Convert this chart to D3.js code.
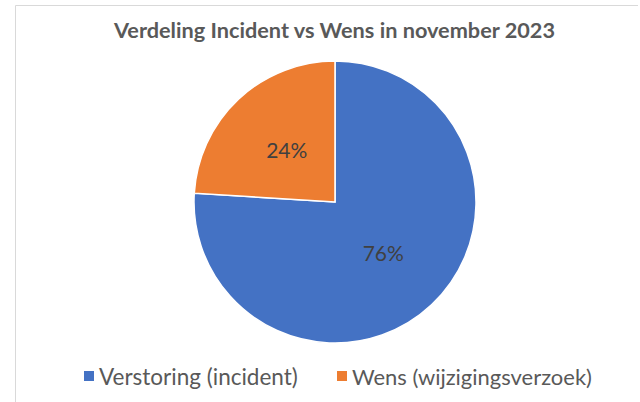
<!DOCTYPE html>
<html>
<head>
<meta charset="utf-8">
<script src="https://cdn.jsdelivr.net/npm/d3@7"></script>
<style>
  body { margin: 0; background: #fff; }
  text { font-family: Lato, "Open Sans", sans-serif; }
</style>
</head>
<body>
<div id="chart"></div>
<script>
// Chart data
const categories = ["Verstoring (incident)", "Wens (wijzigingsverzoek)"];
const shares = [76, 24];
const colors = ["#4472C4", "#ED7D31"];
const title = "Verdeling Incident vs Wens in november 2023";

const width = 640, height = 402;
const cx = 335, cy = 202, radius = 141;

const svg = d3.select("#chart").append("svg")
    .attr("width", width)
    .attr("height", height);

// Chart area border (only top and left visible in the frame)
svg.append("path")
    .attr("d", `M15.5,${height} V5.5 H638`)
    .attr("fill", "none")
    .attr("stroke", "#d9d9d9")
    .attr("stroke-width", 1);

// Fit a text element to a target width by adjusting font size
const fitWidth = (sel, target) => {
    const node = sel.node();
    const size = parseFloat(sel.style("font-size"));
    const w = node.getComputedTextLength();
    sel.style("font-size", (size * target / w).toFixed(2) + "px");
};

// Title
const t = svg.append("text")
    .attr("x", 334.5)
    .attr("y", 38)
    .attr("text-anchor", "middle")
    .style("font-size", "20px")
    .style("font-weight", "bold")
    .attr("fill", "#595959")
    .text(title);
fitWidth(t, 441);

// Pie
const data = categories.map((c, i) => ({ name: c, value: shares[i], color: colors[i] }));
const pie = d3.pie().value(d => d.value).sort(null);
const arc = d3.arc().innerRadius(0).outerRadius(radius);
const labelArc = d3.arc().innerRadius(radius * 0.5).outerRadius(radius * 0.5);

const g = svg.append("g").attr("transform", `translate(${cx},${cy})`);

g.selectAll("path")
    .data(pie(data))
    .join("path")
    .attr("d", arc)
    .attr("fill", d => d.data.color)
    .attr("stroke", "#fff")
    .attr("stroke-width", 1.5);

const total = d3.sum(shares);
g.selectAll("text.lbl")
    .data(pie(data))
    .join("text")
    .attr("class", "lbl")
    .attr("transform", d => {
        const [x, y] = labelArc.centroid(d);
        return `translate(${x},${y})`;
    })
    .attr("text-anchor", "middle")
    .attr("dy", "0.35em")
    .style("font-size", "21px")
    .attr("fill", "#404040")
    .text(d => Math.round(d.data.value / total * 100) + "%");

// Legend
const legendX = [84, 337];
const legendTextW = [199, 240];
const lg = svg.append("g");
data.forEach((d, i) => {
    lg.append("rect")
        .attr("x", legendX[i])
        .attr("y", 371)
        .attr("width", 10)
        .attr("height", 10)
        .attr("fill", d.color);
    const lt = lg.append("text")
        .attr("x", legendX[i] + 15)
        .attr("y", 385)
        .style("font-size", "22px")
        .attr("fill", "#595959")
        .text(d.name);
    fitWidth(lt, legendTextW[i]);
});
</script>
</body>
</html>
